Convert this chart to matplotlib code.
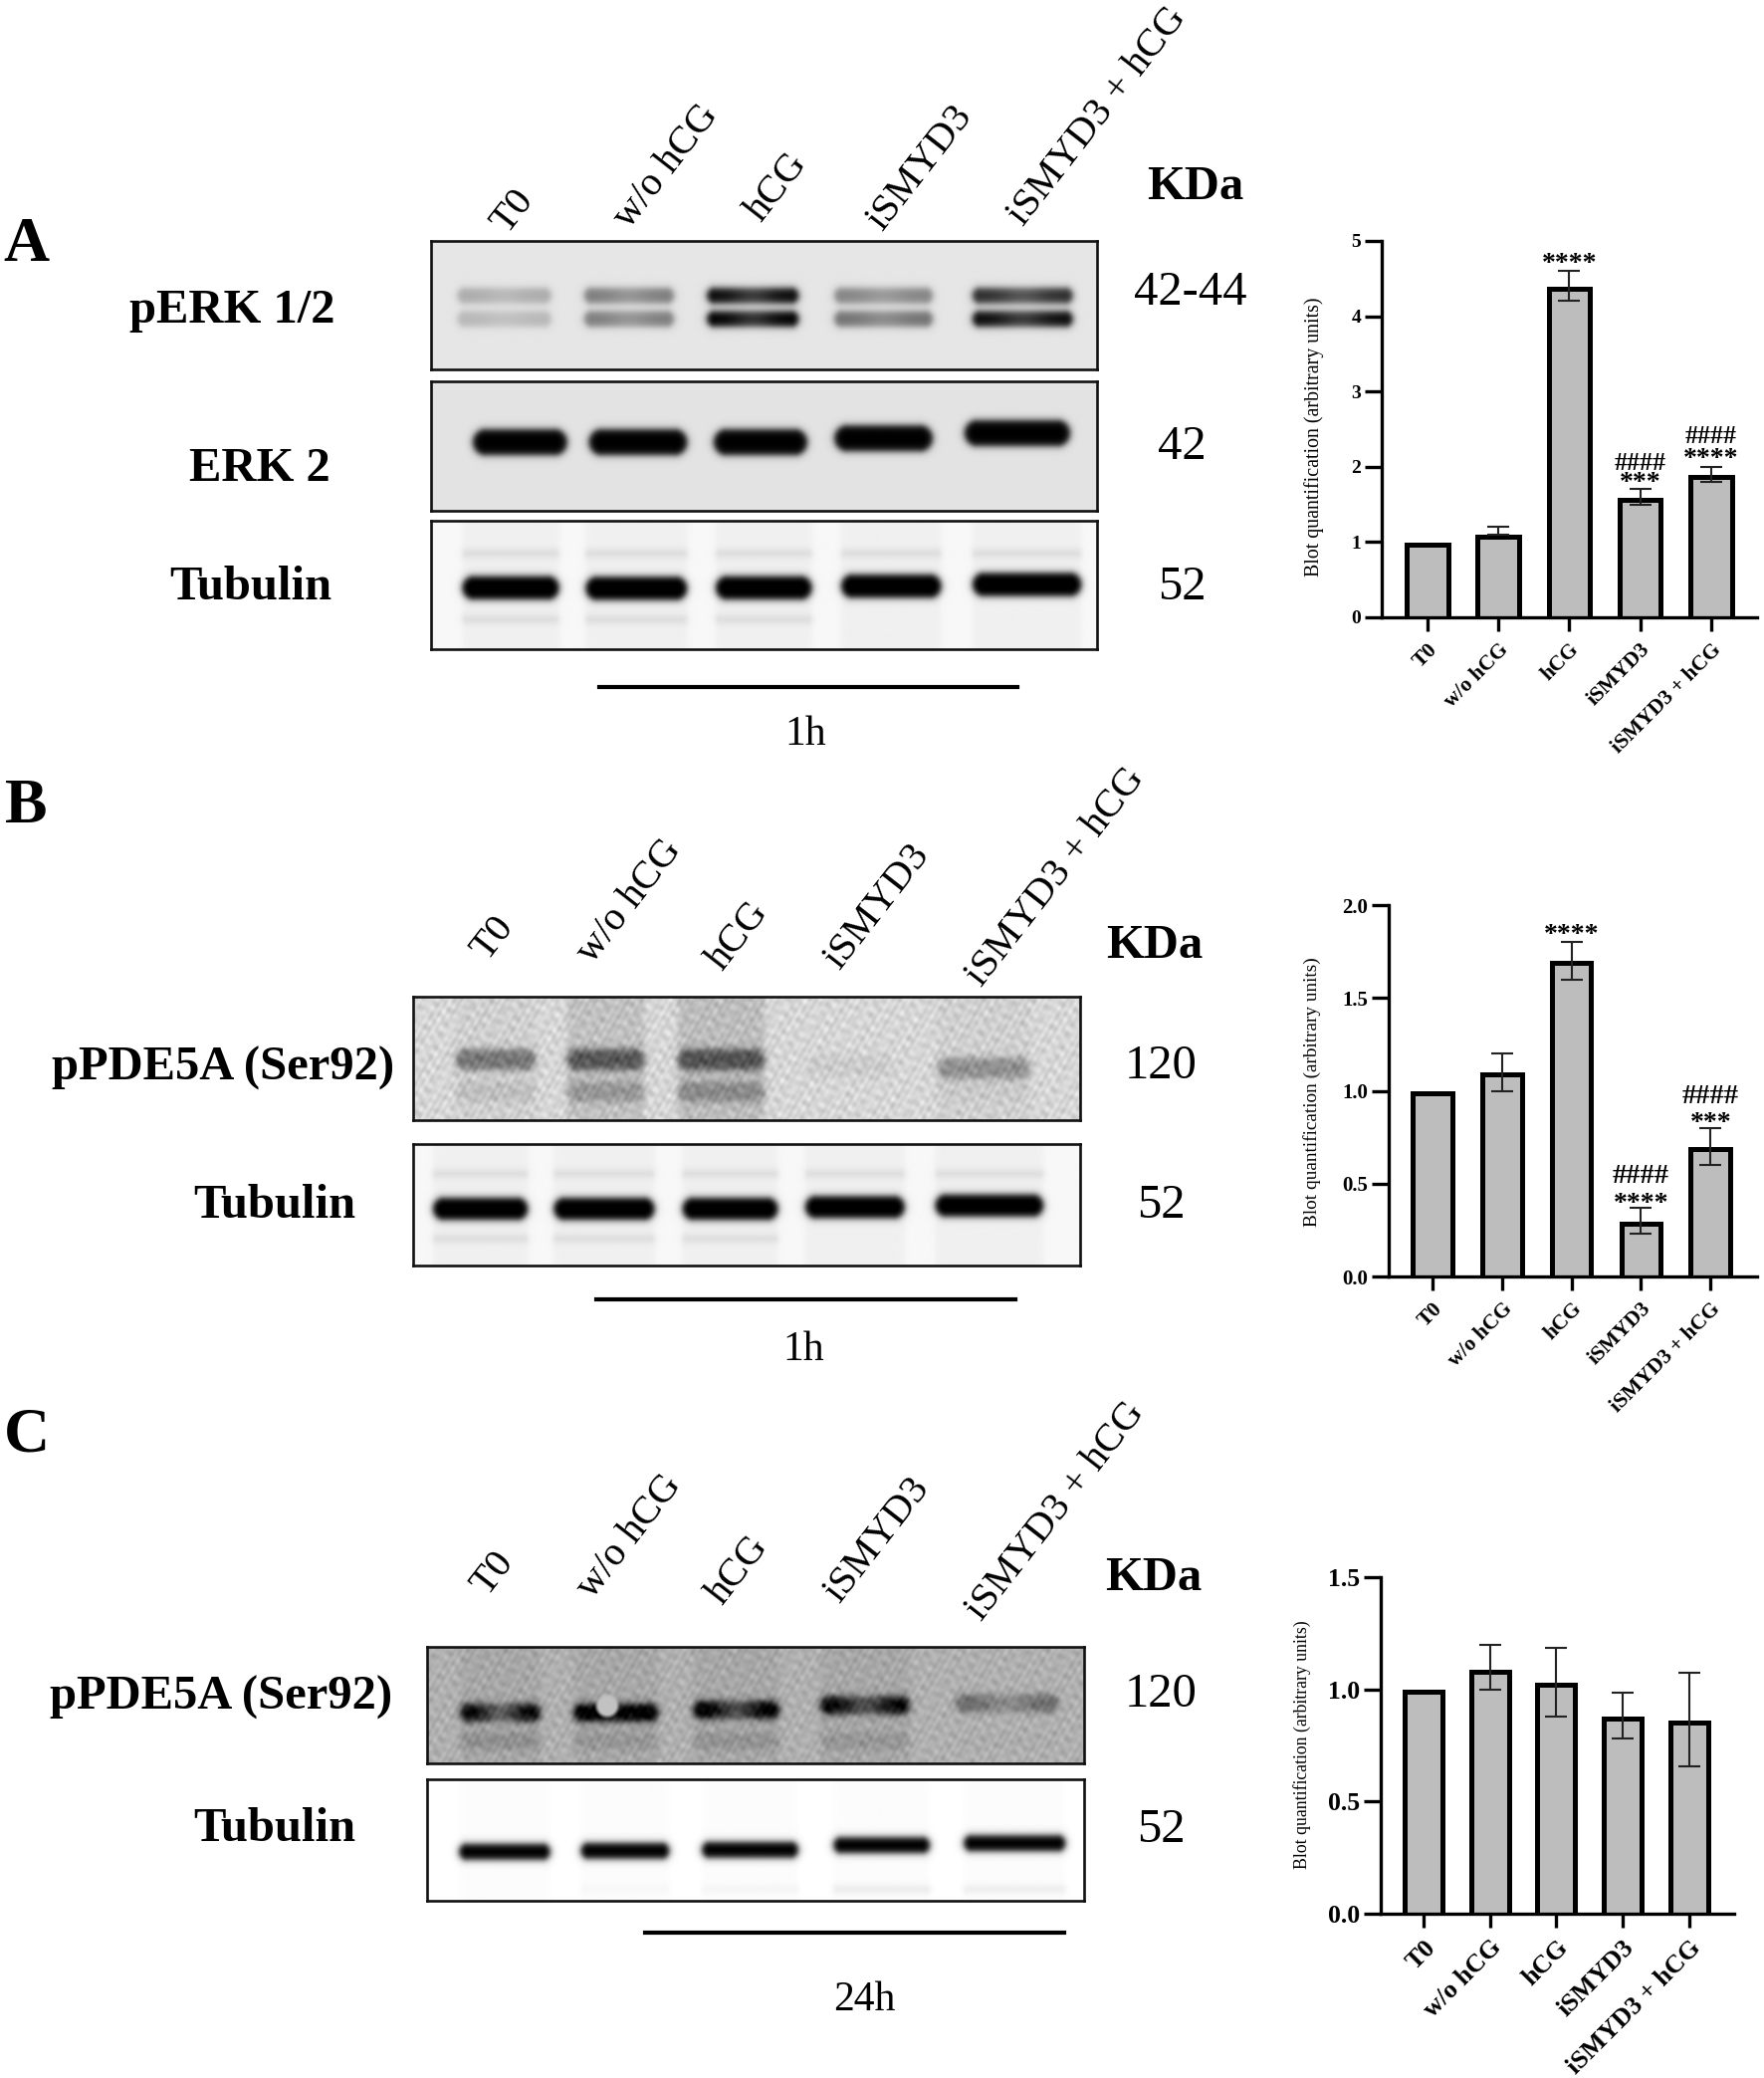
import numpy as np
import matplotlib
matplotlib.use("Agg")
import matplotlib.pyplot as plt
from matplotlib.transforms import ScaledTranslation

plt.rcParams['font.family'] = ['Liberation Serif', 'DejaVu Serif']

W, H = 1772, 2087
S = W / 1331.0

labels = ["T0", "w/o hCG", "hCG", "iSMYD3", "iSMYD3 + hCG"]

# bar charts
a_vals = [1.0, 1.1, 4.4, 1.6, 1.9]
a_low = [1.0, 1.1, 4.2, 1.5, 1.8]
a_high = [1.0, 1.2, 4.6, 1.7, 2.0]
a_ticks = [0, 1, 2, 3, 4, 5]
a_marks = [(2, 4.76, "****"), (3, 1.85, "***"), (3, 2.05, "####"), (4, 2.155, "****"), (4, 2.406, "####")]

b_vals = [1.0, 1.1, 1.7, 0.3, 0.7]
b_low = [1.0, 1.0, 1.6, 0.23, 0.6]
b_high = [1.0, 1.2, 1.8, 0.37, 0.8]
b_ticks = [0.0, 0.5, 1.0, 1.5, 2.0]
b_marks = [(2, 1.862, "****"), (3, 0.417, "****"), (3, 0.537, "####"), (4, 0.85, "***"), (4, 0.967, "####")]

c_vals = [1.0, 1.09, 1.03, 0.88, 0.865]
c_low = [1.0, 1.0, 0.88, 0.78, 0.656]
c_high = [1.0, 1.2, 1.184, 0.983, 1.075]
c_ticks = [0.0, 0.5, 1.0, 1.5]

# blot lanes, as fractions of each blot box
a1_lanes = [(.04, .18), (.23, .364), (.414, .551), (.605, .752), (.812, .962)]
a1_upper = [.25, .45, .95, .42, .8]
a1_lower = [.2, .45, 1.0, .5, .95]
a2_lanes = [(.063, .204), (.237, .384), (.424, .564), (.605, .752), (.80, .958)]
a2_y = [.47, .47, .47, .44, .40]
a3_lanes = [(.047, .192), (.232, .384), (.427, .571), (.615, .765), (.812, .975)]
a3_y = [.526, .53, .526, .513, .50]
b1_lanes = [(.064, .184), (.231, .347), (.397, .527), (.59, .719), (.786, .925)]
b1_y = [.51, .51, .51, .56, .58]
b1_upper = [.42, .5, .5, .05, .3]
b1_lower = [.08, .2, .24, 0, .03]
b2_lanes = [(.03, .172), (.211, .362), (.404, .547), (.588, .737), (.783, .945)]
b2_y = [.537, .537, .537, .523, .51]
c1_lanes = [(.051, .172), (.223, .351), (.405, .535), (.598, .733), (.804, .959)]
c1_y = [.568, .568, .545, .506, .489]
c1_upper = [.95, 1.0, 1.0, .95, .4]
c1_dip = [.55, .05, .45, .45, .45]
c1_lower = [.14, .1, .12, .1, .02]
c2_lanes = [(.049, .187), (.234, .368), (.418, .564), (.618, .764), (.816, .97)]
c2_y = [.60, .592, .584, .546, .53]
c2_faint = [0, .02, .03, .07, .06]

row_a = ["pERK 1/2", "ERK 2", "Tubulin"]
row_bc = ["pPDE5A (Ser92)", "Tubulin"]

fig = plt.figure(figsize=(W / 100, H / 100), dpi=100, facecolor="white")


def put(x, y, s, size=35, bold=False, rot=0):
    if rot == 0:
        y = y + 2.5
    else:
        x, y = x + 2, y + 2
    fig.text(x * S / W, 1 - y * S / H, s, fontsize=size, fontweight="bold" if bold else "normal",
             ha="center", va="center", rotation=rot, color="black")


def band(shape, lane, yc, hh, dark, dip=0.0, soft=4.0, round_ends=True):
    # rounded bar with blurred edge, sizes worked out in pixels
    h, w = shape
    xx, yy = np.meshgrid(np.arange(w) + .5, np.arange(h) + .5)
    xc = (lane[0] + lane[1]) / 2 * w
    hw = (lane[1] - lane[0]) / 2 * w
    hy = hh * h
    rr = min(hw, hy) if round_ends else 1.0
    dx = np.abs(xx - xc) - hw + rr
    dy = np.abs(yy - yc * h) - hy + rr
    d = np.hypot(np.maximum(dx, 0), np.maximum(dy, 0)) + np.minimum(np.maximum(dx, dy), 0) - rr
    shade = 1 - dip * np.exp(-((xx - xc) / (.45 * hw)) ** 2)
    return 0.5 * (1 - np.tanh(d / soft)) * dark * shade


def blot(x0, x1, y0, y1, bg, bands, smears=(), mottle=0.0, hole=None):
    w = int((x1 - x0) * S)
    h = int((y1 - y0) * S)
    img = np.zeros((h, w))
    for lane, yc, hh, dark, *rest in bands:
        img += band((h, w), lane, yc, hh, dark, *rest)
    for lane, dark in smears:
        img += band((h, w), lane, .55, .6, dark, soft=3.0, round_ends=False)
    out = bg * (1 - np.clip(img, 0, 1))
    if mottle:
        xx, yy = np.meshgrid(np.arange(w), np.arange(h))
        grain = np.zeros((h, w))
        for fx, fy, ph in [(.37, .19, .3), (-.23, .41, 1.7), (.51, -.33, 2.9), (.13, .59, 4.1),
                           (-.67, .29, 5.3), (.83, .47, .9), (.29, -.71, 3.3), (-.97, -.61, 2.1)]:
            grain += np.sin(xx * fx + yy * fy + ph)
        out += mottle * grain / 2
    if hole:
        xx, yy = np.meshgrid((np.arange(w) + .5) / w, (np.arange(h) + .5) / h)
        d = np.hypot((xx - hole[0]) * w, (yy - hole[1]) * h)
        m = np.clip((hole[2] - d) / 4, 0, 1)
        out = out * (1 - m) + hole[3] * m
    ax = fig.add_axes([x0 * S / W, 1 - y1 * S / H, (x1 - x0) * S / W, (y1 - y0) * S / H])
    ax.imshow(out, cmap="gray", vmin=0, vmax=1, aspect="auto", interpolation="bilinear")
    ax.set_xticks([])
    ax.set_yticks([])
    for sp in ax.spines.values():
        sp.set_linewidth(1.9)
        sp.set_color("#111111")


def bars(box, vals, low, high, ticks, fmt, xlim, width, tick_size, x_size, ylab_x, ylab_y, ylab_size, marks=(),
         star=20, hash_size=18.5, label_nudge=5):
    l, r, t, b = box
    ax = fig.add_axes([l / W, 1 - b / H, (r - l) / W, (b - t) / H])
    x = np.arange(len(vals))
    rects = ax.bar(x, vals, width=width, color="#bdbdbd", edgecolor="black", linewidth=3.6, zorder=2)
    # the outer edge of the outline sits on the value in the original
    down = ScaledTranslation(0, -2.5 / 100, fig.dpi_scale_trans)
    for rect in rects:
        rect.set_transform(ax.transData + down)
    v = np.array(vals)
    err = [v - np.array(low), np.array(high) - v]
    ax.errorbar(x[1:], v[1:], yerr=[err[0][1:], err[1][1:]], fmt="none", ecolor="#222222", elinewidth=1.5,
                capsize=8, capthick=1.5, zorder=3)
    ax.set_xlim(*xlim)
    ax.set_ylim(ticks[0], ticks[-1])
    ax.set_yticks(ticks)
    ax.set_yticklabels([fmt.format(t_) for t_ in ticks], fontsize=tick_size, fontweight="bold")
    ax.set_xticks(x)
    ax.set_xticklabels(labels, fontsize=x_size, fontweight="bold", rotation=45, ha="right", rotation_mode="anchor")
    nudge = ScaledTranslation(-label_nudge / 100, 0, fig.dpi_scale_trans)
    for lab in ax.get_xticklabels():
        lab.set_transform(lab.get_transform() + nudge)
    ax.tick_params(axis="y", length=12, width=2.4, pad=3)
    ax.tick_params(axis="x", length=10, width=2.4, pad=6)
    for s in ["top", "right"]:
        ax.spines[s].set_visible(False)
    for s in ["left", "bottom"]:
        ax.spines[s].set_linewidth(2.4)
    for i, y, s in marks:
        is_hash = s[0] == "#"
        ax.annotate(s, (i, y), xytext=(0, 0 if is_hash else -3.5), textcoords="offset points", ha="center",
                    va="center", fontweight="bold", fontsize=hash_size if is_hash else star, zorder=4)
    fig.text(ylab_x / W, 1 - ylab_y / H, "Blot quantification (arbitrary units)", rotation=90, ha="center",
             va="center", fontsize=ylab_size)


# panel A
put(20, 183, "A", 46, True)
for (x, y), s in zip([(385, 158), (501, 124), (584, 139), (692, 125), (826, 86)], labels):
    put(x, y, s, 29, rot=52)
put(902, 139, "KDa", 35, True)
for (x, y), s in zip([(175, 232), (196, 351), (189, 441)], row_a):
    put(x, y, s, 35, True)
for (x, y), s in zip([(898, 218), (892, 335), (892, 441)], ["42-44", "42", "52"]):
    put(x, y, s, 35)

blot(325, 828, 182, 279, .90,
     [(l, .43, .06, d, .2) for l, d in zip(a1_lanes, a1_upper)] + [(l, .61, .06, d, .2) for l, d in zip(a1_lanes, a1_lower)])
blot(325, 828, 288, 385, .89, [(l, y, .1, 1.0) for l, y in zip(a2_lanes, a2_y)])
blot(325, 828, 393, 490, .97,
     [(l, y, .09, 1.0) for l, y in zip(a3_lanes, a3_y)]
     + [(l, .26, .03, .08) for l in a3_lanes] + [(l, .77, .03, .08) for l in a3_lanes[:3]],
     smears=[(l, .03) for l in a3_lanes])

fig.add_artist(plt.Line2D([452 * S / W, 768 * S / W], [1 - 518 * S / H] * 2, color="black", lw=3))
put(608, 552, "1h", 30)

# panel B
put(20, 607, "B", 46, True)
for (x, y), s in zip([(370, 706), (473, 678), (555, 704), (660, 682), (795, 660)], labels):
    put(x, y, s, 29, rot=52)
put(871, 711, "KDa", 35, True)
for (x, y), s in zip([(168, 803), (207, 907)], row_bc):
    put(x, y, s, 35, True)
put(876, 802, "120", 35)
put(876, 907, "52", 35)

blot(312, 815, 752, 845, .84,
     [(l, y, .085, d) for l, y, d in zip(b1_lanes, b1_y, b1_upper)] + [(l, .77, .08, d) for l, d in zip(b1_lanes, b1_lower)],
     smears=[(b1_lanes[1], .1), (b1_lanes[2], .12), (b1_lanes[0], .03), (b1_lanes[4], .03)], mottle=.03)
blot(312, 815, 863, 955, .97,
     [(l, y, .09, 1.0) for l, y in zip(b2_lanes, b2_y)]
     + [(l, .25, .03, .08) for l in b2_lanes] + [(l, .78, .03, .08) for l in b2_lanes[:3]],
     smears=[(l, .03) for l in b2_lanes])

fig.add_artist(plt.Line2D([450 * S / W, 766 * S / W], [1 - 980 * S / H] * 2, color="black", lw=3))
put(606, 1016, "1h", 30)

# panel C
put(20, 1081, "C", 46, True)
for (x, y), s in zip([(370, 1185), (473, 1157), (555, 1183), (660, 1160), (795, 1138)], labels):
    put(x, y, s, 29, rot=52)
put(870, 1188, "KDa", 35, True)
for (x, y), s in zip([(167, 1278), (207, 1377)], row_bc):
    put(x, y, s, 35, True)
put(876, 1276, "120", 35)
put(876, 1378, "52", 35)

blot(322, 818, 1242, 1330, .69,
     [(l, y, .075, d, p) for l, y, d, p in zip(c1_lanes, c1_y, c1_upper, c1_dip)]
     + [(l, .81, .07, d) for l, d in zip(c1_lanes, c1_lower)],
     smears=[(l, .05) for l in c1_lanes[:4]], mottle=.025, hole=(.274, .51, 13, .76))
blot(322, 818, 1342, 1434, 1.0,
     [(l, y, .065, 1.0) for l, y in zip(c2_lanes, c2_y)] + [(l, .905, .03, d) for l, d in zip(c2_lanes, c2_faint)],
     smears=[(l, .012) for l in c2_lanes])

fig.add_artist(plt.Line2D([487 * S / W, 803 * S / W], [1 - 1458 * S / H] * 2, color="black", lw=3))
put(652, 1506, "24h", 30)

# quantification charts
bars((1388, 1765, 242, 620), a_vals, a_low, a_high, a_ticks, "{:d}", (-.646, 4.65), .585, 14, 15.5, 1320, 439, 14.3, a_marks,
     label_nudge=7)
bars((1395, 1765, 909, 1282), b_vals, b_low, b_high, b_ticks, "{:.1f}", (-.63, 4.67), .567, 15, 15.5, 1318, 1097, 13.9, b_marks,
     hash_size=20.5)
bars((1387, 1742, 1584, 1922), c_vals, c_low, c_high, c_ticks, "{:.1f}", (-.645, 4.68), .57, 18.5, 18.8, 1308, 1752, 12.8)

fig.savefig("out.png", dpi=100, facecolor="white")
